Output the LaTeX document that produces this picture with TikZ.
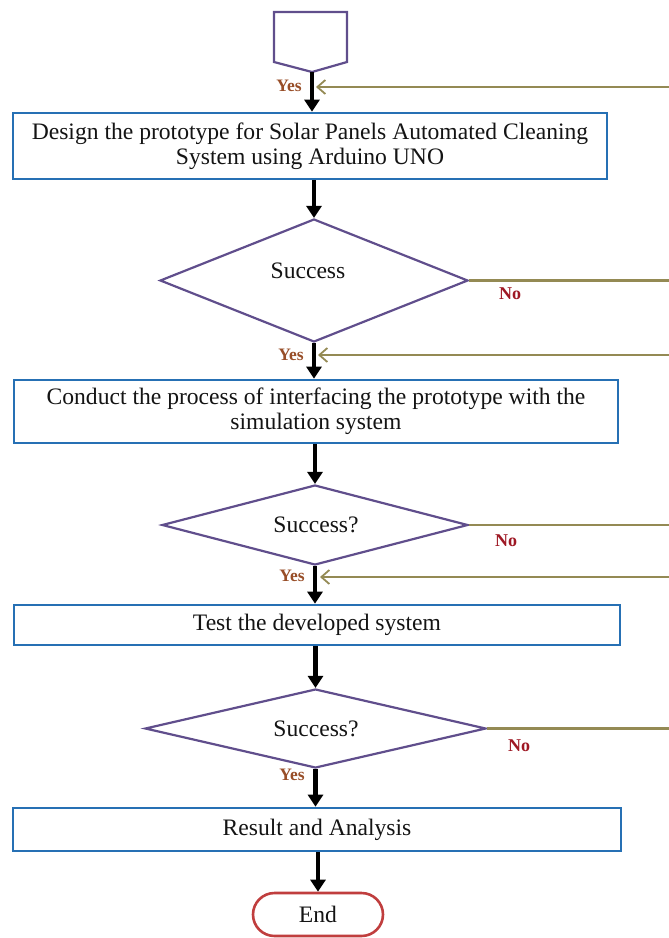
\documentclass[tikz,border=0pt]{standalone}
\usepackage{fontspec}
\setmainfont{Liberation Serif}
\usetikzlibrary{arrows.meta,shapes.geometric,shapes.misc}
\definecolor{boxblue}{RGB}{38,112,180}
\definecolor{dpurple}{RGB}{96,78,140}
\definecolor{backolive}{RGB}{148,138,84}
\definecolor{yescol}{RGB}{152,78,40}
\definecolor{nocol}{RGB}{158,24,36}
\definecolor{endred}{RGB}{192,62,62}
\definecolor{txt}{RGB}{20,20,20}
\begin{document}
\begin{tikzpicture}[x=1pt,y=-1pt,
  procbox/.style={draw=boxblue, line width=2.6pt, fill=white, inner sep=0pt, align=center,
    text=txt, font=\fontsize{23.6}{25}\selectfont},
  decision/.style={diamond, draw=dpurple, line width=2.2pt, inner sep=0pt},
  dtext/.style={text=txt, inner sep=0pt, font=\fontsize{23.6}{25}\selectfont},
  flow/.style={draw=black, line width=4.5pt, -{Triangle[width=15pt,length=12pt]}},
  back/.style={draw=backolive, line width=2.2pt, -{Straight Barb[width=14pt,length=8pt,line width=1.8pt]}},
  nolink/.style={draw=backolive, line width=2.2pt},
  yeslab/.style={text=yescol, inner sep=0pt, font=\bfseries\fontsize{17.5}{18}\selectfont},
  nolab/.style={text=nocol, inner sep=0pt, font=\bfseries\fontsize{18}{18}\selectfont},
  pentshape/.style={draw=dpurple, line width=2.2pt, line join=miter},
  endbox/.style={rounded rectangle, draw=endred, line width=2.6pt, fill=white, inner sep=0pt,
    text=txt, font=\fontsize{23.6}{25}\selectfont}
]
\useasboundingbox (0,0) rectangle (669,938);

% off-page connector
\draw[pentshape] (274,12) -- (347,12) -- (347,62) -- (312,72) -- (274,62) -- cycle;
\coordinate (pentpt) at (312,72);

% process boxes
\node[procbox, minimum width=594pt, minimum height=66pt] (box1) at (310,146)
  {Design the prototype for Solar Panels Automated Cleaning\\System using Arduino UNO};
\node[procbox, minimum width=604pt, minimum height=63pt] (box2) at (316,411.5)
  {Conduct the process of interfacing the prototype with the\\simulation system};
\node[procbox, minimum width=606pt, minimum height=40pt] (box3) at (317,625)
  {Test the developed system};
\node[procbox, minimum width=608pt, minimum height=43pt] (box4) at (317,829.5)
  {Result and Analysis};
\node[endbox, minimum width=130pt, minimum height=43pt] (end) at (318,914.5) {End};

% decisions
\node[decision, minimum width=308pt, minimum height=123pt] (d1) at (314,280.5) {};
\node[dtext] (d1t) at (308,271) {Success};
\node[decision, minimum width=306pt, minimum height=80pt] (d2) at (315,525) {};
\node[dtext] (d2t) at (316,525) {Success?};
\node[decision, minimum width=341pt, minimum height=79pt] (d3) at (315.5,728.5) {};
\node[dtext] (d3t) at (316,729) {Success?};

% main flow
\draw[flow] (pentpt) -- (pentpt |- box1.north);
\draw[flow] (d1.north |- box1.south) -- (d1.north);
\draw[flow] (d1.south) -- (d1.south |- box2.north);
\draw[flow] (d2.north |- box2.south) -- (d2.north);
\draw[flow] (d2.south) -- (d2.south |- box3.north);
\draw[flow] (d3.north |- box3.south) -- (d3.north);
\draw[flow] (d3.south) -- (d3.south |- box4.north);
\draw[flow] (end.north |- box4.south) -- (end.north);

% return lines (olive)
\coordinate (r1) at (669,87);
\coordinate (r2) at (669,355);
\coordinate (r3) at (669,577);
\coordinate (t1) at (316,87);
\coordinate (t2) at (318,355);
\coordinate (t3) at (320,577);
\draw[back] (r1) -- (t1);
\draw[back] (r2) -- (t2);
\draw[back] (r3) -- (t3);

% "No" branches
\coordinate (n1) at (669,280.5);
\coordinate (n2) at (669,525);
\coordinate (n3) at (669,728.5);
\draw[nolink] (d1.east) -- (n1);
\draw[nolink] (d2.east) -- (n2);
\draw[nolink] (d3.east) -- (n3);

% labels
\node[yeslab] (y1) at (289,86) {Yes};
\node[yeslab] (y2) at (291,355) {Yes};
\node[yeslab] (y3) at (292,576) {Yes};
\node[yeslab] (y4) at (292,775) {Yes};
\node[nolab] (no1) at (510,294) {No};
\node[nolab] (no2) at (506,541) {No};
\node[nolab] (no3) at (519,746) {No};
\end{tikzpicture}
\end{document}
